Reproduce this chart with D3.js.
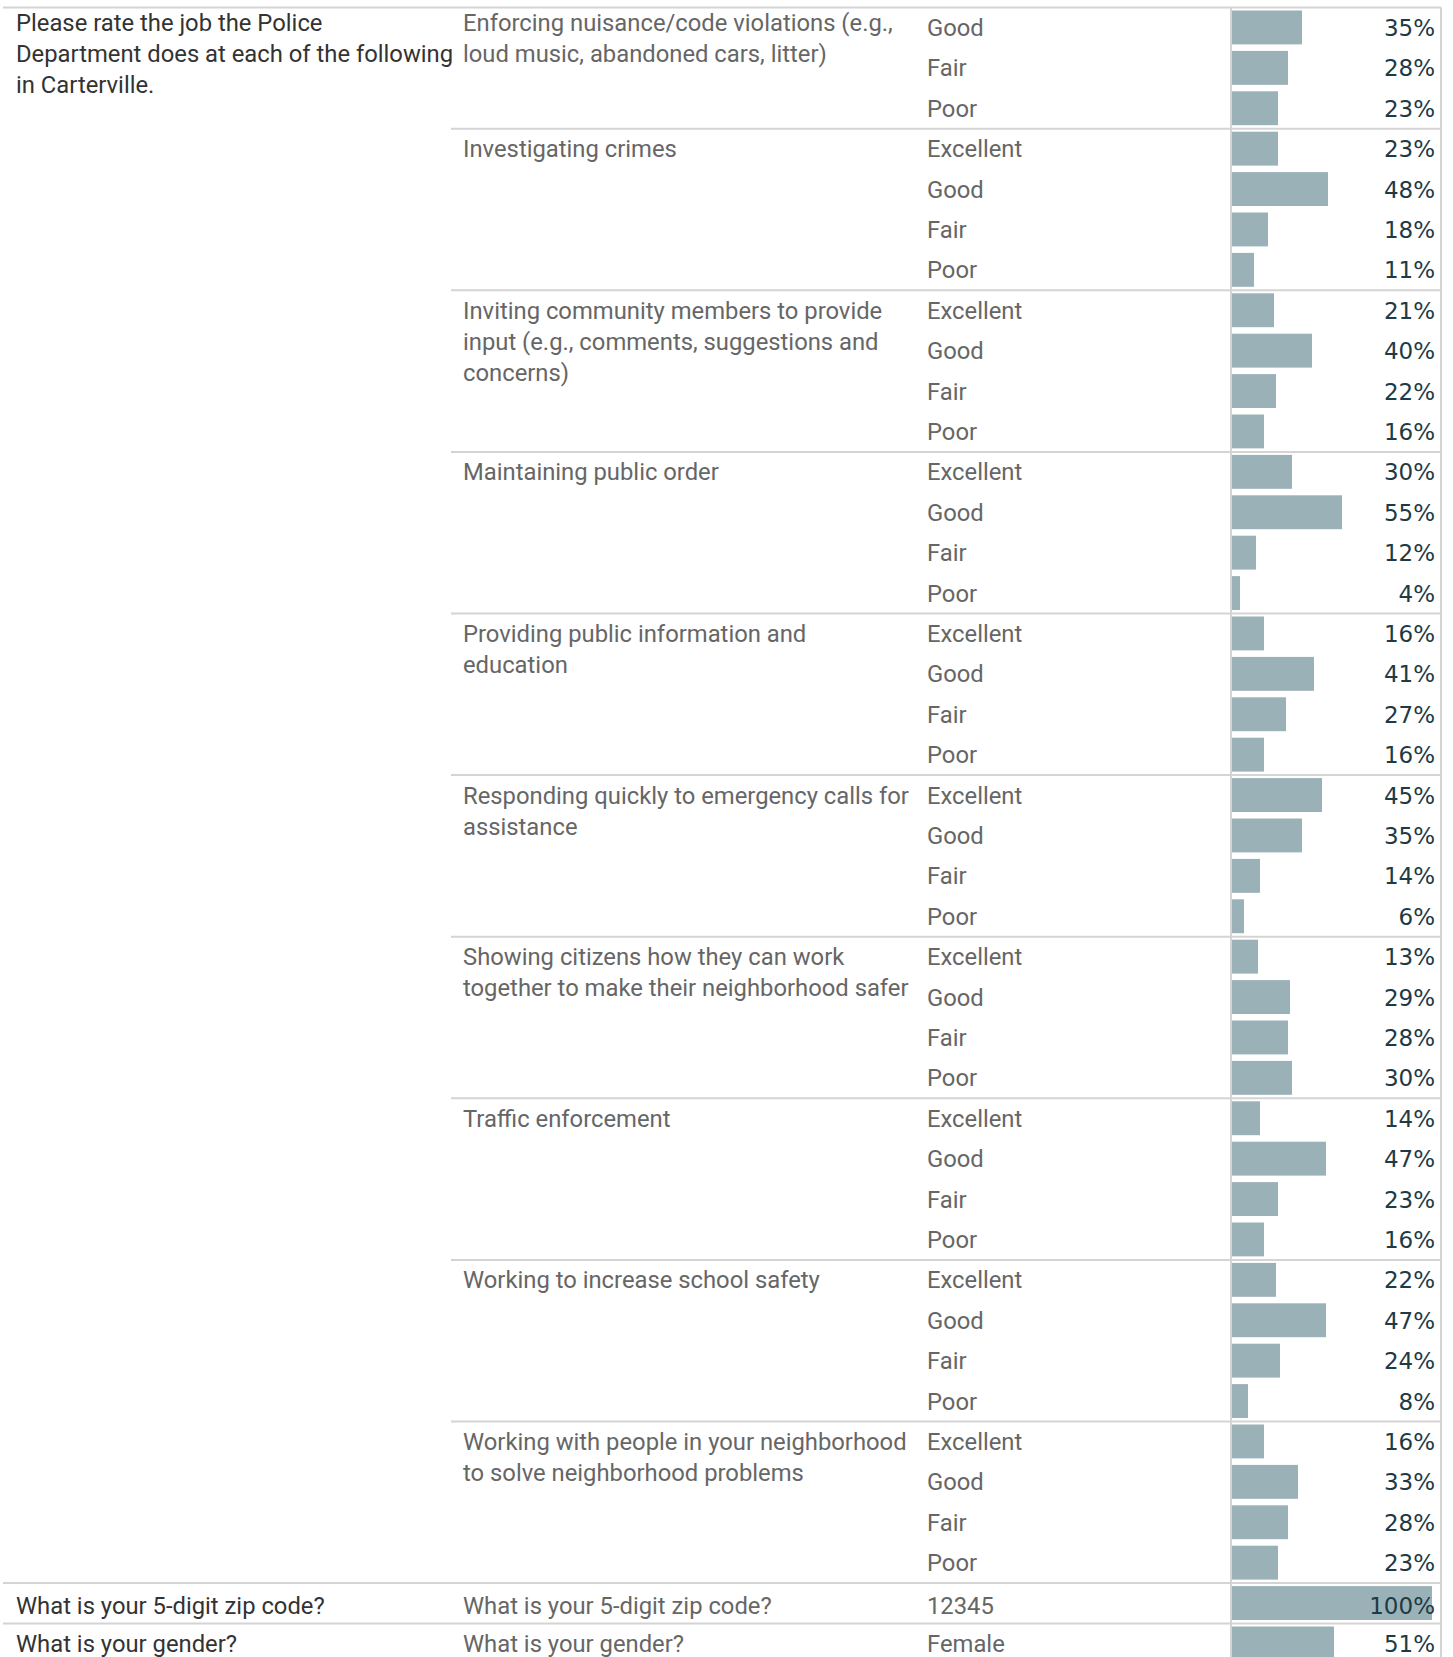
<!DOCTYPE html>
<html>
<head>
<meta charset="utf-8">
<script src="https://cdn.jsdelivr.net/npm/d3@7"></script>
<style>
  body { margin: 0; overflow: hidden; background: #fff; }
  .lbl { font-family: Roboto, "Noto Sans", sans-serif; font-size: 23.8px; }
  .pct { font-family: "DejaVu Sans", sans-serif; font-size: 23px; fill: #1e3a44; }
</style>
</head>
<body>
<div id="chart"></div>
<script>
// questions (first column)
const questions = [
  ["Please rate the job the Police", "Department does at each of the following", "in Carterville."],
  ["What is your 5-digit zip code?"],
  ["What is your gender?"]
];

// sub items (second column), lines as wrapped in the source
const topics = [
  ["Enforcing nuisance/code violations (e.g.,", "loud music, abandoned cars, litter)"],
  ["Investigating crimes"],
  ["Inviting community members to provide", "input (e.g., comments, suggestions and", "concerns)"],
  ["Maintaining public order"],
  ["Providing public information and", "education"],
  ["Responding quickly to emergency calls for", "assistance"],
  ["Showing citizens how they can work", "together to make their neighborhood safer"],
  ["Traffic enforcement"],
  ["Working to increase school safety"],
  ["Working with people in your neighborhood", "to solve neighborhood problems"],
  ["What is your 5-digit zip code?"],
  ["What is your gender?"]
];
// which question each topic belongs to
const topicQuestion = [0, 0, 0, 0, 0, 0, 0, 0, 0, 0, 1, 2];

const ratings4 = ["Excellent", "Good", "Fair", "Poor"];
const answers = [
  ["Good", "Fair", "Poor"],
  ratings4, ratings4, ratings4, ratings4, ratings4,
  ratings4, ratings4, ratings4, ratings4,
  ["12345"],
  ["Female"]
];
const percents = [
  [35, 28, 23],
  [23, 48, 18, 11],
  [21, 40, 22, 16],
  [30, 55, 12, 4],
  [16, 41, 27, 16],
  [45, 35, 14, 6],
  [13, 29, 28, 30],
  [14, 47, 23, 16],
  [22, 47, 24, 8],
  [16, 33, 28, 23],
  [100],
  [51]
];

// flatten into rows
const rows = [];
const topicStart = [];
const questionStart = [];
topics.forEach((t, ti) => {
  topicStart.push(rows.length);
  const q = topicQuestion[ti];
  if (questionStart[q] === undefined) questionStart[q] = rows.length;
  answers[ti].forEach((a, ai) => {
    rows.push({topic: ti, answer: a, value: percents[ti][ai]});
  });
});

const W = 1453, H = 1657;
const topY = 7.5, rowH = 40.4;
const colQ = 16, colT = 463, colA = 927, barX0 = 1231, rightX = 1441;
const lineH = 31;

// small vertical nudges seen in the source table
const headShift = i => (i === 0 ? -5.5 : 0);
const rowShift = i => (rows[i].topic === 10 ? 2 : 0);

const svg = d3.select("#chart").append("svg")
  .attr("width", W).attr("height", H);

const y = d3.scaleBand()
  .domain(d3.range(rows.length))
  .range([topY, topY + rows.length * rowH]);

const x = d3.scaleLinear().domain([0, 100]).range([barX0 + 1, barX0 + 201]);

// bars
svg.append("g").selectAll("rect")
  .data(rows)
  .join("rect")
  .attr("x", x(0))
  .attr("y", (d, i) => y(i) + 3)
  .attr("width", d => x(d.value) - x(0))
  .attr("height", y.bandwidth() - 6.5)
  .attr("fill", "#9bb1b8");

// grid lines
const grid = svg.append("g").attr("stroke", "#d4d4d4").attr("stroke-width", 2);
grid.append("line").attr("x1", 3).attr("x2", rightX).attr("y1", topY).attr("y2", topY);
topicStart.forEach((s, ti) => {
  if (ti === 0) return;
  const isQ = questionStart.includes(s);
  grid.append("line")
    .attr("x1", isQ ? 3 : colT - 12).attr("x2", rightX)
    .attr("y1", y(s)).attr("y2", y(s));
});
grid.append("line").attr("x1", barX0).attr("x2", barX0).attr("y1", topY).attr("y2", H);
grid.append("line").attr("x1", rightX).attr("x2", rightX).attr("y1", topY).attr("y2", H);

// question labels
questions.forEach((lines, qi) => {
  const s = questionStart[qi];
  const t = svg.append("text").attr("class", "lbl").attr("fill", "#333");
  lines.forEach((l, li) => {
    t.append("tspan").attr("x", colQ)
      .attr("y", y(s) + y.bandwidth() / 2 + li * lineH + headShift(s) + rowShift(s))
      .attr("dy", "0.35em").text(l);
  });
});

// topic labels
topics.forEach((lines, ti) => {
  const s = topicStart[ti];
  const t = svg.append("text").attr("class", "lbl").attr("fill", "#666");
  lines.forEach((l, li) => {
    t.append("tspan").attr("x", colT)
      .attr("y", y(s) + y.bandwidth() / 2 + li * lineH + headShift(s) + rowShift(s))
      .attr("dy", "0.35em").text(l);
  });
});

// answer labels
svg.append("g").selectAll("text")
  .data(rows)
  .join("text")
  .attr("class", "lbl")
  .attr("fill", "#666")
  .attr("x", colA)
  .attr("y", (d, i) => y(i) + y.bandwidth() / 2 + rowShift(i))
  .attr("dy", "0.35em")
  .text(d => d.answer);

// percent labels
svg.append("g").selectAll("text")
  .data(rows)
  .join("text")
  .attr("class", "pct")
  .attr("x", 1435)
  .attr("y", (d, i) => y(i) + y.bandwidth() / 2 + rowShift(i))
  .attr("dy", "0.36em")
  .attr("text-anchor", "end")
  .text(d => d.value + "%");
</script>
</body>
</html>
